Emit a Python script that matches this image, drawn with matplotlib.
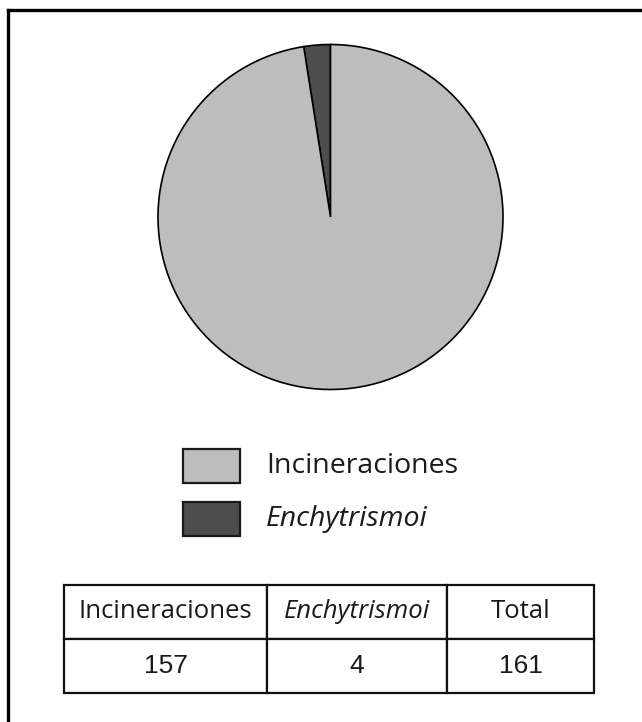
import matplotlib
matplotlib.use("Agg")
import matplotlib.pyplot as plt
from matplotlib.patches import Rectangle

# Data
categories = ["Enchytrismoi", "Incineraciones"]
counts = [4, 157]
colors = ["#4d4d4d", "#bdbdbd"]
italic = {"Enchytrismoi": True, "Incineraciones": False}
legend_order = ["Incineraciones", "Enchytrismoi"]
table_header = ["Incineraciones", "Enchytrismoi", "Total"]
table_values = [157, 4, 161]

W, H = 642, 722
plt.rcParams["font.family"] = ["Open Sans", "DejaVu Sans"]

fig = plt.figure(figsize=(W / 100, H / 100), dpi=100)
ax = fig.add_axes([0, 0, 1, 1])


def py(y):
    """Convert a top-down pixel row into data y."""
    return H - y


# Pie: starts at 12 o'clock, the small wedge goes counter-clockwise
ax.pie(counts, colors=colors, startangle=90, counterclock=True,
       center=(330.5, py(217)), radius=172.5,
       wedgeprops=dict(edgecolor="black", linewidth=1.2))

ax.set_xlim(0, W)
ax.set_ylim(0, H)
ax.set_aspect("auto")
ax.axis("off")

# Outer frame (top and left edges)
ax.plot([8, W], [py(10), py(10)], color="black", lw=2.4, solid_capstyle="projecting")
ax.plot([8, 8], [py(10), 0], color="black", lw=2.4, solid_capstyle="projecting")

# Legend
color_of = dict(zip(categories, colors))
for i, name in enumerate(legend_order):
    top = 449 + i * 53
    ax.add_patch(Rectangle((183, py(top + 34)), 57, 34, facecolor=color_of[name],
                           edgecolor="#1a1a1a", linewidth=1.6))
    ax.text(266, py(top + 17), name, fontsize=20.5, va="center", ha="left",
            style="italic" if italic[name] else "normal", color="#1a1a1a")

# Summary table
x0, x1 = 64, 594
y0, y1 = 585, 693
tbl = ax.table(cellText=[[str(v) for v in table_values]],
               colLabels=table_header,
               cellLoc="center",
               colWidths=[203, 180, 147],
               bbox=[x0 / W, py(y1) / H, (x1 - x0) / W, (y1 - y0) / H])
tbl.auto_set_font_size(False)
for (r, c), cell in tbl.get_celld().items():
    cell.set_linewidth(1.6)
    cell.set_edgecolor("#111111")
    cell.set_facecolor("white")
    t = cell.get_text()
    t.set_fontsize(18.5)
    t.set_color("#1a1a1a")
    if r == 0 and italic.get(table_header[c], False):
        t.set_style("italic")
    if r == 1:
        t.set_family(["Liberation Sans", "DejaVu Sans"])
        t.set_fontsize(19)

fig.savefig("out.png", dpi=100, facecolor="white")
